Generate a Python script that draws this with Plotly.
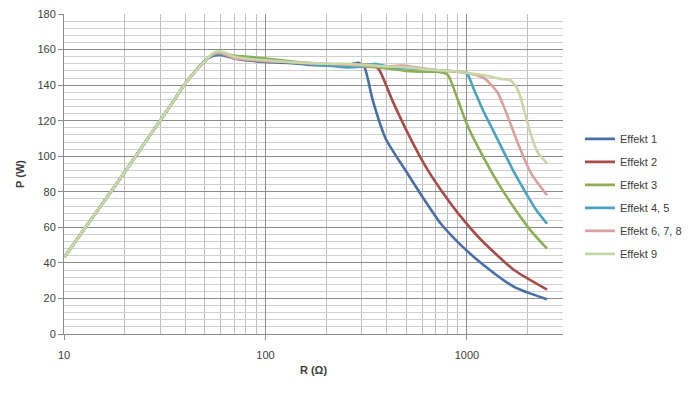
import plotly.graph_objects as go

# ---- data ----
rise_R = [10, 15, 20, 25, 30, 35, 40, 45, 50]
rise_P = [43, 71, 91, 107, 120, 131, 141, 148, 153.5]

e1_R = rise_R + [55, 60, 70, 80, 100, 130, 160, 200, 250, 290, 310, 340, 395, 509, 611, 743, 934, 1175, 1715, 2500]
e1_P = rise_P + [156.5, 157, 155, 154, 153, 152.5, 151.5, 151, 151, 152.5, 150, 132, 110, 90, 76, 62, 50, 40, 26.5, 19.5]

e2_R = rise_R + [55, 60, 70, 80, 100, 130, 160, 200, 250, 300, 340, 365, 428, 509, 611, 743, 903, 1175, 1715, 2500]
e2_P = rise_P + [157, 157.5, 155.5, 154.5, 153.5, 153, 152, 151.5, 151, 151.5, 151, 149, 131, 113, 96, 81, 68, 53, 36, 25]

e3_R = rise_R + [55, 60, 70, 80, 100, 130, 160, 200, 250, 300, 400, 500, 600, 700, 800, 900, 1000, 1175, 1426, 1715, 2080, 2500]
e3_P = rise_P + [157.5, 158, 156.5, 156, 155, 153.5, 152.5, 151.5, 151, 150.5, 149.5, 148, 147.5, 147.5, 146, 132, 118, 102, 85, 71, 58, 48]

e45_R = rise_R + [55, 60, 70, 80, 100, 130, 160, 200, 250, 300, 350, 400, 500, 600, 700, 800, 900, 1000, 1080, 1200, 1315, 1500, 1715, 1924, 2200, 2500]
e45_P = rise_P + [157, 157.5, 155.5, 155, 154, 153, 152, 151, 150, 150.5, 152, 150.5, 149.5, 149, 148.5, 148, 147.5, 146.5, 138, 126, 117, 104, 91, 81, 70, 62]

e678_R = rise_R + [55, 60, 70, 80, 100, 130, 160, 200, 250, 300, 400, 480, 600, 700, 800, 1000, 1216, 1300, 1426, 1600, 1795, 2080, 2500]
e678_P = rise_P + [157.5, 158, 155, 154.5, 153.5, 153, 152.5, 152, 151.5, 151, 150.5, 151, 149.5, 148.5, 148, 147, 144, 141, 135.5, 122, 107, 90.5, 78]

e9_R = rise_R + [55, 58, 62, 70, 80, 100, 130, 160, 200, 250, 300, 400, 500, 600, 700, 800, 1000, 1216, 1476, 1657, 1795, 1924, 2080, 2253, 2500]
e9_P = rise_P + [158, 159, 158.5, 156, 155, 154, 153, 152.5, 152, 152, 151.5, 150.5, 150, 149, 148.5, 148, 147, 145.5, 143.5, 142.5, 137, 126, 112, 102, 96]

series_names = ["Effekt 1", "Effekt 2", "Effekt 3", "Effekt 4, 5", "Effekt 6, 7, 8", "Effekt 9"]
series_R = [e1_R, e2_R, e3_R, e45_R, e678_R, e9_R]
series_P = [e1_P, e2_P, e3_P, e45_P, e678_P, e9_P]
colors = ["#4A6FA5", "#A84C49", "#8EAE55", "#4BA3C0", "#D9A0A0", "#C7D7A6"]

y_ticks = [0, 20, 40, 60, 80, 100, 120, 140, 160, 180]
x_major = [10, 100, 1000]
x_minor = [20, 30, 40, 50, 60, 70, 80, 90, 200, 300, 400, 500, 600, 700, 800, 900, 2000, 3000]

fig = go.Figure()
for name, R, P, c in zip(series_names, series_R, series_P, colors):
    fig.add_trace(go.Scatter(
        x=R, y=P, mode="lines", name=name, legendgroup=name,
        line=dict(color=c, width=2.6, shape="spline", smoothing=0.6),
    ))

font_family = "Liberation Sans, Arial, sans-serif"
fig.update_layout(
    width=694, height=393,
    margin=dict(l=64, r=131, t=14, b=59, autoexpand=False),
    paper_bgcolor="white", plot_bgcolor="white",
    font=dict(family=font_family, size=11, color="#404040"),
    showlegend=True,
    legend=dict(
        x=1.034, y=0.43, xanchor="left", yanchor="middle",
        font=dict(size=11, color="#404040"),
        tracegroupgap=4, traceorder="grouped",
        bgcolor="rgba(0,0,0,0)", itemwidth=30,
    ),
    xaxis=dict(
        type="log", range=[1, 3.4771], automargin=False,
        tickvals=x_major, ticktext=[str(v) for v in x_major],
        showgrid=True, gridcolor="#8C8C8C", gridwidth=1,
        showline=True, linecolor="#8C8C8C", linewidth=1,
        ticks="outside", ticklen=5, tickcolor="#8C8C8C",
        ticklabelstandoff=6,
        minor=dict(tickvals=x_minor, showgrid=True, gridcolor="#BEBEBE", gridwidth=1, ticks=""),
        title=dict(text="<b>R (Ω)</b>", font=dict(size=11, color="#404040"), standoff=6),
        zeroline=False,
    ),
    yaxis=dict(
        range=[0, 180], tickvals=y_ticks, automargin=False,
        showgrid=True, gridcolor="#8C8C8C", gridwidth=1,
        showline=True, linecolor="#8C8C8C", linewidth=1,
        ticks="outside", ticklen=5, tickcolor="#8C8C8C",
        minor=dict(dtick=4, showgrid=True, gridcolor="#D0D0D0", gridwidth=1, ticks=""),
        title=dict(text="<b>P (W)</b>", font=dict(size=11, color="#404040"), standoff=10),
        zeroline=False,
    ),
)

fig.write_html("out.html", config={"displayModeBar": False},
               post_script="document.body.style.margin='0px';")
